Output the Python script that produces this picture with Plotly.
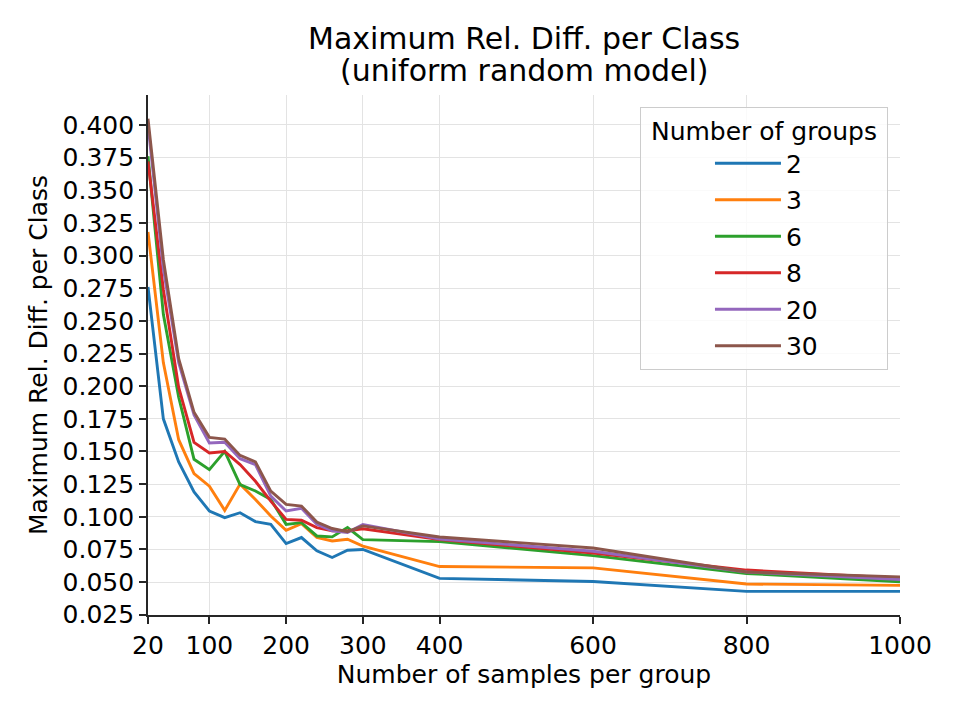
import plotly.graph_objects as go

samples = [20, 40, 60, 80, 100, 120, 140, 160, 180, 200, 220, 240, 260, 280, 300, 400, 600, 800, 1000]

groups = ["2", "3", "6", "8", "20", "30"]

g2 = [0.276, 0.175, 0.142, 0.119, 0.1044, 0.0993, 0.1031, 0.0963, 0.0942, 0.0795,
      0.0841, 0.0739, 0.0688, 0.0744, 0.0750, 0.0528, 0.0505, 0.0429, 0.0429]
g3 = [0.318, 0.218, 0.159, 0.133, 0.1234, 0.1049, 0.1250, 0.1133, 0.1006, 0.0897,
      0.0947, 0.0841, 0.0815, 0.0828, 0.0775, 0.0619, 0.0609, 0.0485, 0.0475]
g6 = [0.376, 0.255, 0.1915, 0.144, 0.1361, 0.1501, 0.1247, 0.1197, 0.1133, 0.0942,
      0.0955, 0.0853, 0.0846, 0.0917, 0.0825, 0.0810, 0.0703, 0.0566, 0.0503]
g8 = [0.372, 0.274, 0.199, 0.157, 0.1488, 0.1500, 0.1400, 0.1272, 0.1120, 0.0980,
      0.0973, 0.0917, 0.0892, 0.0892, 0.0908, 0.0825, 0.0723, 0.0592, 0.0530]
g20 = [0.400, 0.290, 0.218, 0.178, 0.1565, 0.1570, 0.1445, 0.1400, 0.1158, 0.1044,
       0.1065, 0.0942, 0.0892, 0.0879, 0.0940, 0.0830, 0.0736, 0.0577, 0.0520]
g30 = [0.4048, 0.297, 0.221, 0.180, 0.1608, 0.1595, 0.1470, 0.1420, 0.1196, 0.1095,
       0.1082, 0.0960, 0.0910, 0.0886, 0.0930, 0.0845, 0.0761, 0.0577, 0.0540]

series = [g2, g3, g6, g8, g20, g30]
colors = ["#1f77b4", "#ff7f0e", "#2ca02c", "#d62728", "#9467bd", "#8c564b"]

x_ticks = [20, 100, 200, 300, 400, 600, 800, 1000]

title_lines = ["Maximum Rel. Diff. per Class", "(uniform random model)"]

FONT = "DejaVu Sans"

fig = go.Figure()
for name, ys, c in zip(groups, series, colors):
    fig.add_trace(go.Scatter(x=samples, y=ys, mode="lines", name=name,
                             legendgroup="g" + name,
                             line=dict(color=c, width=2.9)))

fig.update_layout(
    width=960, height=720,
    margin=dict(l=148, r=60, t=95, b=105),
    paper_bgcolor="white", plot_bgcolor="white",
    font=dict(family=FONT, size=25, color="black"),
    legend=dict(
        title=dict(text="\u00a0Number of groups\u00a0", side="top center",
                   font=dict(family=FONT, size=25)),
        font=dict(family=FONT, size=25),
        x=0.984, xanchor="right", y=0.977, yanchor="top",
        xref="paper", yref="paper",
        bgcolor="rgba(255,255,255,0.8)", bordercolor="#cccccc", borderwidth=1,
        indentation=69, itemwidth=66, tracegroupgap=1,
    ),
    showlegend=True,
)

# two-line title, placed as centred text above the plot area
for txt, ypos in zip(title_lines, [1.1077, 1.0462]):
    fig.add_annotation(text=txt, xref="paper", yref="paper", x=0.5, y=ypos,
                       xanchor="center", yanchor="middle", showarrow=False,
                       font=dict(family=FONT, size=30, color="black"))

fig.update_xaxes(
    range=[20, 1000], tickvals=x_ticks, ticktext=[str(v) for v in x_ticks],
    showline=True, linecolor="#262626", linewidth=1.6, mirror=False,
    ticks="outside", ticklen=7, tickwidth=1.6, tickcolor="#262626",
    showgrid=True, gridcolor="#e3e3e3", gridwidth=1.3, zeroline=False,
    tickfont=dict(family=FONT, size=25),
    title=dict(text="Number of samples per group", standoff=7,
               font=dict(family=FONT, size=25)),
)
fig.update_yaxes(
    range=[0.0248, 0.4229], tick0=0.025, dtick=0.025, tickformat=".3f",
    showline=True, linecolor="#262626", linewidth=1.6, mirror=False,
    ticks="outside", ticklen=7, tickwidth=1.6, tickcolor="#262626",
    showgrid=True, gridcolor="#e3e3e3", gridwidth=1.3, zeroline=False,
    tickfont=dict(family=FONT, size=25),
    title=dict(text="Maximum Rel. Diff. per Class", standoff=8,
               font=dict(family=FONT, size=25)),
)

fig.write_html("out.html")
